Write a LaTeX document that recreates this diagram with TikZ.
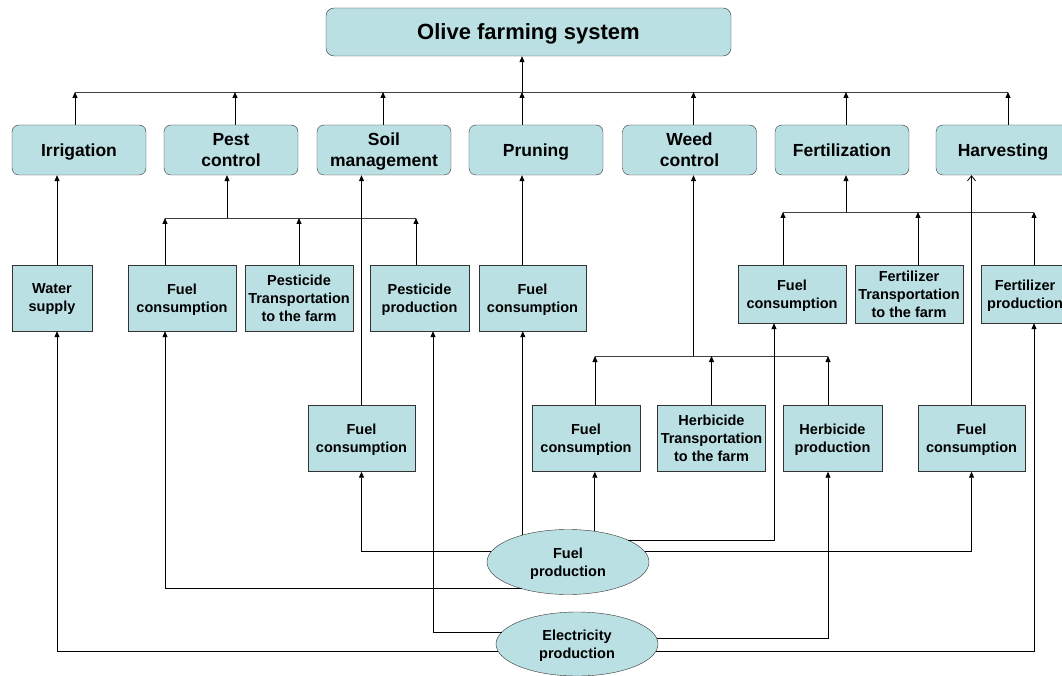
\documentclass[tikz,border=0pt]{standalone}
\usepackage{fontspec}
\setmainfont{Liberation Sans}
\usetikzlibrary{arrows.meta,shapes.geometric}
\definecolor{boxfill}{RGB}{187,224,227}

\begin{document}
\begin{tikzpicture}[
  x=1pt, y=-1pt,
  top/.style={draw=black!80, fill=boxfill, rounded corners=8pt,
              minimum width=405pt, minimum height=48pt, align=center, text depth=0pt,
              font=\fontsize{22}{26}\selectfont\bfseries},
  cat/.style={draw=black!80, fill=boxfill, rounded corners=7pt,
              minimum width=134pt, minimum height=50pt, align=center, inner sep=1pt, text depth=0pt,
              font=\fontsize{17.5}{21}\selectfont\bfseries},
  sub/.style={draw=black!80, fill=boxfill, minimum height=66pt, align=center, inner sep=1pt, text depth=0pt,
              font=\fontsize{14.5}{18}\selectfont\bfseries},
  src/.style={ellipse, draw=black!80, fill=boxfill, minimum width=162pt, minimum height=65pt,
              align=center, inner sep=0pt, text depth=0pt, font=\fontsize{14.5}{18}\selectfont\bfseries},
  arr/.style={-{Triangle[length=6pt,width=5pt]}, line width=0.8pt},
  oarr/.style={-{Straight Barb[length=5pt,width=8pt]}, line width=0.8pt},
  wire/.style={line width=0.8pt, black!75},
]
\useasboundingbox (0,0) rectangle (1062,676);

% ---------------- Top level ----------------
\node[top] (title) at (528.5,32) {Olive farming system};

\node[cat] (irr)  at (79,150)   {Irrigation};
\node[cat] (pest) at (231,150)  {Pest\\control};
\node[cat] (soil) at (384,150)  {Soil\\management};
\node[cat] (prun) at (536,150)  {Pruning};
\node[cat] (weed) at (689.5,150) {Weed\\control};
\node[cat] (fert) at (842,150)  {Fertilization};
\node[cat] (harv) at (1003,150) {Harvesting};

% ---------------- First row of inputs ----------------
\node[sub, minimum width=80pt]  (water)  at (52,298)    {Water\\supply};
\node[sub, minimum width=108pt] (pfuel)  at (182,298)   {Fuel\\consumption};
\node[sub, minimum width=108pt] (ptrans) at (299,298)   {Pesticide\\Transportation\\to the farm};
\node[sub, minimum width=99pt]  (pprod)  at (419.5,298) {Pesticide\\production};
\node[sub, minimum width=107pt] (rfuel)  at (532.5,298) {Fuel\\consumption};
\node[sub, minimum width=108pt, minimum height=58pt] (ffuel)  at (792,294)  {Fuel\\consumption};
\node[sub, minimum width=108pt, minimum height=58pt] (ftrans) at (909,294)  {Fertilizer\\Transportation\\to the farm};
\node[sub, minimum width=88pt,  minimum height=58pt] (fprod)  at (1025,294) {Fertilizer\\production};

% ---------------- Second row of inputs ----------------
\node[sub, minimum width=107pt] (sfuel)  at (361.5,438.5) {Fuel\\consumption};
\node[sub, minimum width=108pt] (wfuel)  at (586,438.5)   {Fuel\\consumption};
\node[sub, minimum width=108pt] (htrans) at (711.5,438.5) {Herbicide\\Transportation\\to the farm};
\node[sub, minimum width=99pt]  (hprod)  at (832.5,438.5) {Herbicide\\production};
\node[sub, minimum width=107pt] (hfuel)  at (971.5,438.5) {Fuel\\consumption};

% ---------------- Energy sources ----------------
\node[src] (fuelp) at (568,562) {Fuel\\production};
\node[src, minimum height=64pt] (elecp) at (577,644) {Electricity\\production};

% ---------------- Operations to system ----------------
\coordinate (bus) at (522,92);
\draw[wire] ([xshift=-4pt]irr.north |- bus) -- ([xshift=5pt]harv.north |- bus);
\draw[arr] (bus) -- (title.south -| bus);
\draw[arr] ([xshift=-4pt]irr.north)    -- ([xshift=-4pt]irr.north |- bus);
\draw[arr] ([xshift=4pt]pest.north)    -- ([xshift=4pt]pest.north |- bus);
\draw[arr] ([xshift=-1pt]soil.north)   -- ([xshift=-1pt]soil.north |- bus);
\draw[arr] ([xshift=-14pt]prun.north)  -- ([xshift=-14pt]prun.north |- bus);
\draw[arr] ([xshift=4pt]weed.north)    -- ([xshift=4pt]weed.north |- bus);
\draw[arr] ([xshift=4pt]fert.north)    -- ([xshift=4pt]fert.north |- bus);
\draw[arr] ([xshift=5pt]harv.north)    -- ([xshift=5pt]harv.north |- bus);

% ---------------- Inputs to operations ----------------
\draw[arr] ([xshift=5pt]water.north) -- ([xshift=5pt]water.north |- irr.south);

\coordinate (pbus) at (227,218);
\draw[wire] ([xshift=-17pt]pfuel.north |- pbus) -- ([xshift=-3.5pt]pprod.north |- pbus);
\draw[arr] (pbus) -- (pbus |- pest.south);
\draw[arr] ([xshift=-17pt]pfuel.north)  -- ([xshift=-17pt]pfuel.north |- pbus);
\draw[arr] (ptrans.north)               -- (ptrans.north |- pbus);
\draw[arr] ([xshift=-3.5pt]pprod.north) -- ([xshift=-3.5pt]pprod.north |- pbus);

\draw[arr] (sfuel.north) -- (sfuel.north |- soil.south);
\draw[arr] ([xshift=-10.5pt]rfuel.north) -- ([xshift=-10.5pt]rfuel.north |- prun.south);

\coordinate (wbus) at (693.5,356);
\draw[wire] ([xshift=9pt]wfuel.north |- wbus) -- ([xshift=-4.5pt]hprod.north |- wbus);
\draw[arr] (wbus) -- (wbus |- weed.south);
\draw[arr] ([xshift=9pt]wfuel.north)    -- ([xshift=9pt]wfuel.north |- wbus);
\draw[arr] (htrans.north)               -- (htrans.north |- wbus);
\draw[arr] ([xshift=-4.5pt]hprod.north) -- ([xshift=-4.5pt]hprod.north |- wbus);

\coordinate (fbus) at (846,212);
\draw[wire] ([xshift=-9pt]ffuel.north |- fbus) -- ([xshift=9pt]fprod.north |- fbus);
\draw[arr] (fbus) -- (fbus |- fert.south);
\draw[arr] ([xshift=-9pt]ffuel.north) -- ([xshift=-9pt]ffuel.north |- fbus);
\draw[arr] ([xshift=9pt]ftrans.north) -- ([xshift=9pt]ftrans.north |- fbus);
\draw[arr] ([xshift=9pt]fprod.north)  -- ([xshift=9pt]fprod.north |- fbus);

\draw[oarr] (hfuel.north) -- (hfuel.north |- harv.south);

% ---------------- Energy supply ----------------
\draw[arr] (fuelp.149) -- (fuelp.149 |- rfuel.south);
\draw[arr] (fuelp.49)  -- (fuelp.49 |- wfuel.south);
\draw[arr] (fuelp.172) -| (sfuel.south);
\draw[arr] (fuelp.210) -| ([xshift=-17pt]pfuel.south);
\draw[arr] (fuelp.20)  -| ([xshift=-18pt]ffuel.south);
\draw[arr] (fuelp.8)   -| (hfuel.south);

\draw[arr] (elecp.171) -| ([xshift=13.5pt]pprod.south);
\draw[arr] (elecp.185) -| ([xshift=5pt]water.south);
\draw[arr] (elecp.4)   -| ([xshift=-4.5pt]hprod.south);
\draw[arr] (elecp.355) -| ([xshift=9pt]fprod.south);

\end{tikzpicture}
\end{document}
